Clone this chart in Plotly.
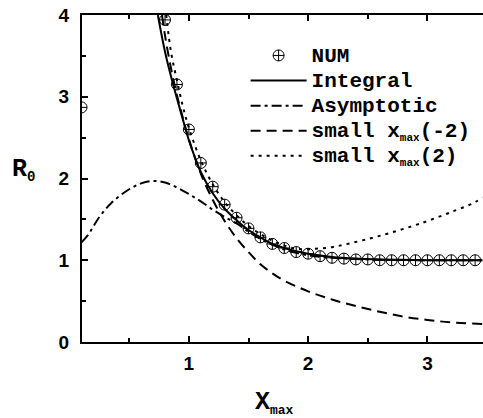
import plotly.graph_objects as go

# NUM (numerical) points
x_num = [0.1, 0.8, 0.9, 1.0, 1.1, 1.2, 1.3, 1.4, 1.5, 1.6, 1.7, 1.8, 1.9, 2.0,
         2.1, 2.2, 2.3, 2.4, 2.5, 2.6, 2.7, 2.8, 2.9, 3.0, 3.1, 3.2, 3.3, 3.4]
r_num = [2.87, 3.94, 3.15, 2.60, 2.19, 1.90, 1.68, 1.52, 1.39, 1.28, 1.20, 1.15, 1.10, 1.08,
         1.05, 1.03, 1.02, 1.01, 1.01, 1.00, 1.00, 1.00, 1.00, 1.00, 1.00, 1.00, 1.00, 1.00]

# Integral (solid)
x_int = [0.74, 0.8, 0.85, 0.9, 0.95, 1.0, 1.1, 1.2, 1.3, 1.4, 1.5, 1.6, 1.7, 1.8,
         1.9, 2.0, 2.2, 2.4, 2.6, 3.0, 3.46]
r_int = [4.00, 3.55, 3.25, 2.98, 2.72, 2.47, 2.08, 1.82, 1.63, 1.49, 1.37, 1.28, 1.20, 1.15,
         1.11, 1.08, 1.04, 1.02, 1.01, 1.00, 1.00]

# Asymptotic (dash-dot)
x_asy = [0.1, 0.15, 0.25, 0.35, 0.48, 0.6, 0.7, 0.8, 0.9, 1.0, 1.1, 1.2, 1.3, 1.4,
         1.5, 1.6, 1.7, 1.8, 2.0, 2.2, 2.5, 3.0, 3.46]
r_asy = [1.22, 1.30, 1.53, 1.70, 1.85, 1.94, 1.97, 1.95, 1.89, 1.81, 1.72, 1.62, 1.53, 1.45,
         1.35, 1.26, 1.19, 1.13, 1.06, 1.03, 1.01, 1.00, 1.00]

# small x_max (-2) (dashed)
x_sm = [0.775, 0.8, 0.85, 0.9, 0.95, 1.0, 1.1, 1.2, 1.3, 1.4, 1.5, 1.6, 1.7, 1.8,
        2.0, 2.2, 2.4, 2.6, 2.8, 3.0, 3.2, 3.46]
r_sm = [4.00, 3.75, 3.35, 3.02, 2.74, 2.48, 2.06, 1.74, 1.48, 1.27, 1.10, 0.95, 0.84, 0.75,
        0.62, 0.52, 0.44, 0.37, 0.31, 0.27, 0.24, 0.22]

# small x_max (2) (dotted)
x_sp = [0.81, 0.85, 0.9, 0.95, 1.0, 1.1, 1.2, 1.3, 1.4, 1.5, 1.6, 1.7, 1.8, 1.9,
        2.0, 2.1, 2.2, 2.3, 2.5, 2.7, 2.9, 3.0, 3.2, 3.4, 3.46]
r_sp = [4.00, 3.55, 3.20, 2.88, 2.62, 2.22, 1.93, 1.71, 1.55, 1.42, 1.32, 1.24, 1.18, 1.14,
        1.135, 1.145, 1.16, 1.19, 1.26, 1.34, 1.43, 1.48, 1.59, 1.71, 1.77]

x_ticks = [1, 2, 3]
y_ticks = [0, 1, 2, 3, 4]


def big(s):
    return '<span style="font-size:21px">' + s + '</span>'


SUB = '<sub><span style="font-size:11px">max</span></sub>'
legend_names = [big("NUM"), big("Integral"), big("Asymptotic"),
                big("small x") + SUB + big("(-2)"), big("small x") + SUB + big("(2)")]

fig = go.Figure()
fig.add_trace(go.Scatter(x=x_int, y=r_int, mode="lines", name=legend_names[1], legendrank=2,
                         line=dict(color="black", width=2, shape="spline")))
fig.add_trace(go.Scatter(x=x_asy, y=r_asy, mode="lines", name=legend_names[2], legendrank=3,
                         line=dict(color="black", width=2, dash="10px,4px,3px,4px", shape="spline")))
fig.add_trace(go.Scatter(x=x_sm, y=r_sm, mode="lines", name=legend_names[3], legendrank=4,
                         line=dict(color="black", width=2, dash="10px,6px", shape="spline")))
fig.add_trace(go.Scatter(x=x_sp, y=r_sp, mode="lines", name=legend_names[4], legendrank=5,
                         line=dict(color="black", width=2, dash="3px,5px", shape="spline")))
fig.add_trace(go.Scatter(x=x_num, y=r_num, mode="markers", name=legend_names[0], legendrank=1,
                         marker=dict(symbol="circle-cross-open", size=11, color="black",
                                     line=dict(width=1, color="black"))))

fig.update_layout(
    width=483, height=418,
    margin=dict(l=82, r=0, t=15, b=76),
    paper_bgcolor="white", plot_bgcolor="white",
    showlegend=True,
    legend=dict(x=0.408, y=0.93, xanchor="left", yanchor="top",
                bgcolor="rgba(0,0,0,0)", traceorder="normal",
                itemwidth=56,
                font=dict(family="Liberation Mono", size=17, color="black", weight="bold")),
)

fig.update_xaxes(
    range=[0.104, 3.466], tickvals=x_ticks, ticktext=[str(v) for v in x_ticks],
    showgrid=False, zeroline=False, showline=True, linecolor="black", linewidth=2,
    mirror="ticks", ticks="inside", ticklen=6, tickwidth=2, tickcolor="black",
    minor=dict(ticks="inside", dtick=0.5, tick0=0, ticklen=4, tickwidth=2, tickcolor="black"),
    tickfont=dict(family="Liberation Sans", size=19, color="black", weight="bold"),
    ticklabelstandoff=3,
)
fig.update_yaxes(
    range=[0, 4], tickvals=y_ticks, ticktext=[str(v) for v in y_ticks],
    showgrid=False, zeroline=False, showline=True, linecolor="black", linewidth=2,
    mirror=False, ticks="inside", ticklen=6, tickwidth=2, tickcolor="black",
    minor=dict(ticks="inside", dtick=0.5, tick0=0, ticklen=4, tickwidth=2, tickcolor="black"),
    tickfont=dict(family="Liberation Sans", size=19, color="black", weight="bold"),
    ticklabelstandoff=7,
)

fig.add_annotation(text='R<sub><span style="font-size:14px">0</span></sub>',
                   xref="paper", yref="paper",
                   x=-0.145, y=0.527, xanchor="center", yanchor="middle", showarrow=False,
                   font=dict(family="Liberation Mono", size=25, color="black", weight="bold"))
fig.add_annotation(text='X<sub><span style="font-size:13px">max</span></sub>',
                   xref="paper", yref="paper",
                   x=0.48, y=-0.135, xanchor="center", yanchor="top", showarrow=False,
                   font=dict(family="Liberation Mono", size=25, color="black", weight="bold"))

fig.write_html("out.html")
